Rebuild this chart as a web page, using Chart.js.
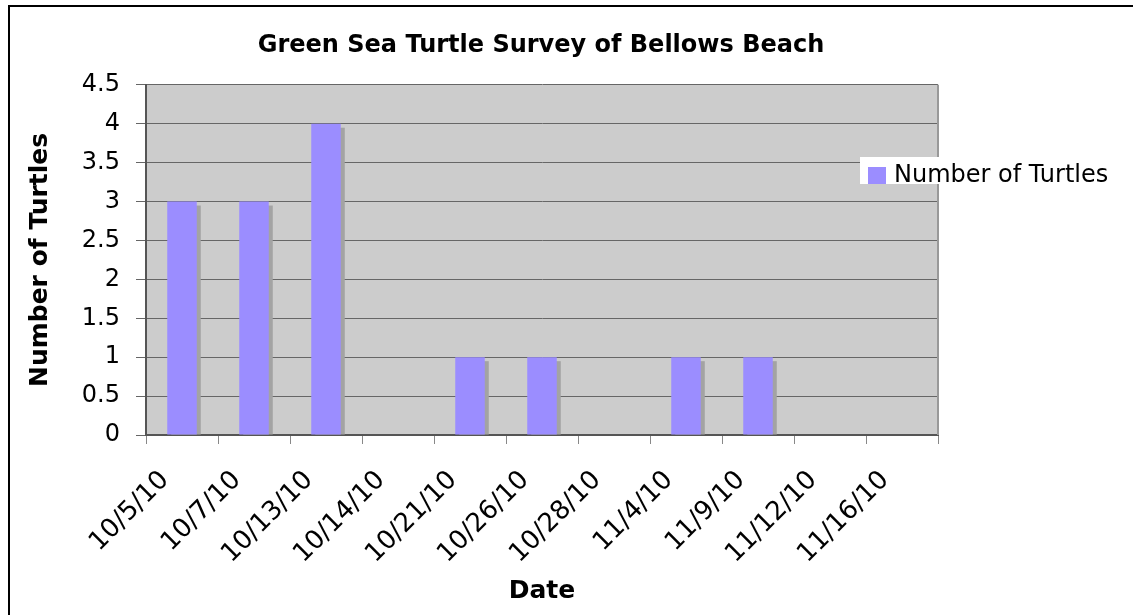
<!DOCTYPE html>
<html>
<head>
    <title>Green Sea Turtle Survey of Bellows Beach</title>
    <script src="https://cdn.jsdelivr.net/npm/chart.js"></script>
    <style>
        html, body { margin: 0; padding: 0; background: #fff; }
    </style>
</head>
<body>
    <canvas id="turtleChart" width="1133" height="615"></canvas>

    <script>
        var surveyDates = ['10/5/10', '10/7/10', '10/13/10', '10/14/10', '10/21/10', '10/26/10',
                           '10/28/10', '11/4/10', '11/9/10', '11/12/10', '11/16/10'];
        var turtleCounts = [3, 3, 4, 0, 1, 1, 0, 1, 1, 0, 0];
        var seriesName = 'Number of Turtles';

        var fontFamily = '"DejaVu Sans", Verdana, sans-serif';
        var barColor = '#9b8dff';

        // gray plot background + white page
        var backgroundPlugin = {
            id: 'background',
            beforeDraw: function (chart) {
                var c = chart.ctx, a = chart.chartArea;
                c.save();
                c.fillStyle = '#fff';
                c.fillRect(0, 0, chart.width, chart.height);
                c.fillStyle = '#cccccc';
                c.fillRect(a.left, a.top, a.right - a.left, a.bottom - a.top);
                c.restore();
            }
        };

        // drop shadow behind each bar
        var shadowPlugin = {
            id: 'barShadow',
            beforeDatasetsDraw: function (chart) {
                var c = chart.ctx;
                var meta = chart.getDatasetMeta(0);
                c.save();
                c.fillStyle = '#a3a3a3';
                meta.data.forEach(function (bar) {
                    var h = bar.base - bar.y;
                    if (h <= 4) return;
                    c.fillRect(bar.x - bar.width / 2 + 4, bar.y + 4, bar.width, h - 4);
                });
                c.restore();
            }
        };

        // right edge of plot, page frame, legend
        var framePlugin = {
            id: 'frame',
            afterDraw: function (chart) {
                var c = chart.ctx, a = chart.chartArea;
                c.save();
                c.strokeStyle = '#999';
                c.lineWidth = 2;
                c.beginPath();
                c.moveTo(a.right, a.top);
                c.lineTo(a.right, a.bottom);
                c.stroke();

                c.strokeStyle = '#000';
                c.lineWidth = 2;
                c.beginPath();
                c.moveTo(9, chart.height);
                c.lineTo(9, 6);
                c.lineTo(chart.width, 6);
                c.stroke();

                var ds = chart.data.datasets[0];
                c.fillStyle = '#fff';
                c.fillRect(860, 157, 273, 27);
                c.fillStyle = ds.backgroundColor;
                c.fillRect(868, 167, 18, 17);
                c.fillStyle = '#000';
                c.font = '24px ' + fontFamily;
                c.textBaseline = 'middle';
                c.textAlign = 'left';
                c.fillText(ds.label, 894, 176);
                c.restore();
            }
        };

        var ctx = document.getElementById('turtleChart').getContext('2d');
        var chart = new Chart(ctx, {
            type: 'bar',
            data: {
                labels: surveyDates,
                datasets: [{
                    label: seriesName,
                    data: turtleCounts,
                    backgroundColor: barColor,
                    borderWidth: 0,
                    barPercentage: 0.41,
                    categoryPercentage: 1.0
                }]
            },
            options: {
                responsive: false,
                animation: false,
                devicePixelRatio: 1,
                layout: { padding: { left: 0, right: 51, top: 0, bottom: 0 } },
                plugins: {
                    legend: { display: false },
                    tooltip: { enabled: false },
                    title: {
                        display: true,
                        text: 'Green Sea Turtle Survey of Bellows Beach',
                        color: '#000',
                        font: { family: fontFamily, size: 24, weight: 'bold' },
                        padding: { top: 31, bottom: 25 }
                    }
                },
                scales: {
                    x: {
                        offset: true,
                        grid: {
                            offset: true,
                            drawOnChartArea: false,
                            tickLength: 9,
                            color: '#888'
                        },
                        border: { color: '#555', width: 2 },
                        ticks: {
                            color: '#000',
                            minRotation: 45,
                            maxRotation: 45,
                            autoSkip: false,
                            labelOffset: -17,
                            padding: 21,
                            font: { family: fontFamily, size: 26 }
                        },
                        title: {
                            display: true,
                            text: 'Date',
                            color: '#000',
                            font: { family: fontFamily, size: 25, weight: 'bold' },
                            padding: { top: 0, bottom: 9 }
                        },
                        afterFit: function (scale) { scale.height = 180; }
                    },
                    y: {
                        min: 0,
                        max: 4.5,
                        grid: {
                            color: '#666',
                            tickLength: 10
                        },
                        border: { color: '#555', width: 2 },
                        ticks: {
                            stepSize: 0.5,
                            color: '#000',
                            padding: 16,
                            font: { family: fontFamily, size: 24 },
                            callback: function (value) { return String(value); }
                        },
                        title: {
                            display: true,
                            text: 'Number of Turtles',
                            color: '#000',
                            font: { family: fontFamily, size: 25, weight: 'bold' },
                            padding: { top: 25, bottom: 0 }
                        },
                        afterFit: function (scale) { scale.width = 146; }
                    },
                    // empty right-hand axis: reserves the space where the legend sits
                    legendSpace: {
                        type: 'linear',
                        position: 'right',
                        grid: { display: false },
                        border: { display: false },
                        ticks: { display: false },
                        afterFit: function (scale) { scale.width = 144; }
                    }
                }
            },
            plugins: [backgroundPlugin, shadowPlugin, framePlugin]
        });
    </script>
</body>
</html>
